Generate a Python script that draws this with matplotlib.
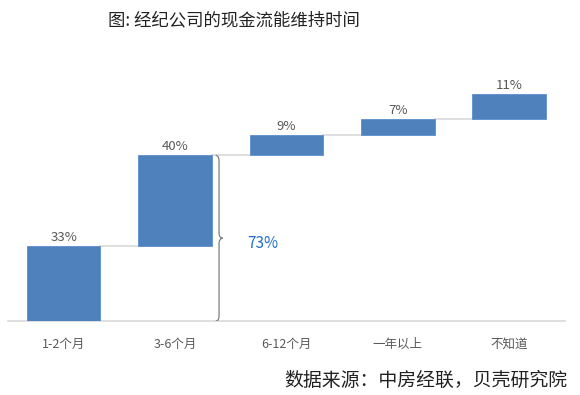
import numpy as np
import matplotlib.pyplot as plt
from matplotlib.path import Path
from matplotlib.patches import PathPatch

plt.rcParams['font.family'] = ['Noto Sans CJK SC', 'DejaVu Sans']

categories = ['1-2个月', '3-6个月', '6-12个月', '一年以上', '不知道']
values = [33, 40, 9, 7, 11]
labels = ['33%', '40%', '9%', '7%', '11%']
brace_label = '73%'

bottoms = np.concatenate([[0], np.cumsum(values)[:-1]])
tops = bottoms + np.array(values)
x = np.arange(len(categories))
w = 0.66

fig = plt.figure(figsize=(5.8, 3.95), dpi=100)
ax = fig.add_axes([0.0138, 0.187, 0.960, 0.661])

ax.bar(x, values, w, bottom=bottoms, color='#4F81BD', edgecolor='#5B8FCC', linewidth=0.6, zorder=3)

# connector lines between bars
for i in range(len(values) - 1):
    ax.plot([x[i] + w / 2, x[i + 1] - w / 2], [tops[i], tops[i]], color='#D9D9D9', lw=1.2, zorder=2)

for xi, t, lab in zip(x, tops, labels):
    ax.text(xi, t + 1.0, lab, ha='center', va='bottom', fontsize=9.5, color='#595959')

# brace next to the second bar: 0 .. 73
x0 = 1 + w / 2 + 0.035
xm = x0 + 0.03
xt = x0 + 0.065
top = tops[1]
mid = top / 2
r = 2.5
verts = [(x0, 0), (xm, 0), (xm, r),
         (xm, mid - r),
         (xm, mid), (xt, mid),
         (xm, mid), (xm, mid + r),
         (xm, top - r),
         (xm, top), (x0, top)]
codes = [Path.MOVETO, Path.CURVE3, Path.CURVE3,
         Path.LINETO,
         Path.CURVE3, Path.CURVE3,
         Path.CURVE3, Path.CURVE3,
         Path.LINETO,
         Path.CURVE3, Path.CURVE3]
ax.add_patch(PathPatch(Path(verts, codes), fill=False, edgecolor='#7F7F7F', lw=0.9, zorder=4))
ax.text(xt + 0.22, mid - 2.5, brace_label, ha='left', va='center', fontsize=11, color='#1F6FC5')

ax.set_xlim(-0.5, 4.5)
ax.set_ylim(0, 115)
ax.set_xticks(x)
ax.set_xticklabels(categories, fontsize=9, color='#595959')
ax.tick_params(axis='x', length=0, pad=12)
ax.set_yticks([])
for s in ['top', 'right', 'left']:
    ax.spines[s].set_visible(False)
ax.spines['bottom'].set_color('#D9D9D9')
ax.spines['bottom'].set_linewidth(1.2)

fig.text(0.403, 0.948, '图: 经纪公司的现金流能维持时间', ha='center', va='center', fontsize=12.5, color='#222222')
fig.text(0.978, 0.038, '数据来源：中房经联，贝壳研究院', ha='right', va='center', fontsize=13.6, color='#222222')

fig.savefig('out.png', dpi=100)
